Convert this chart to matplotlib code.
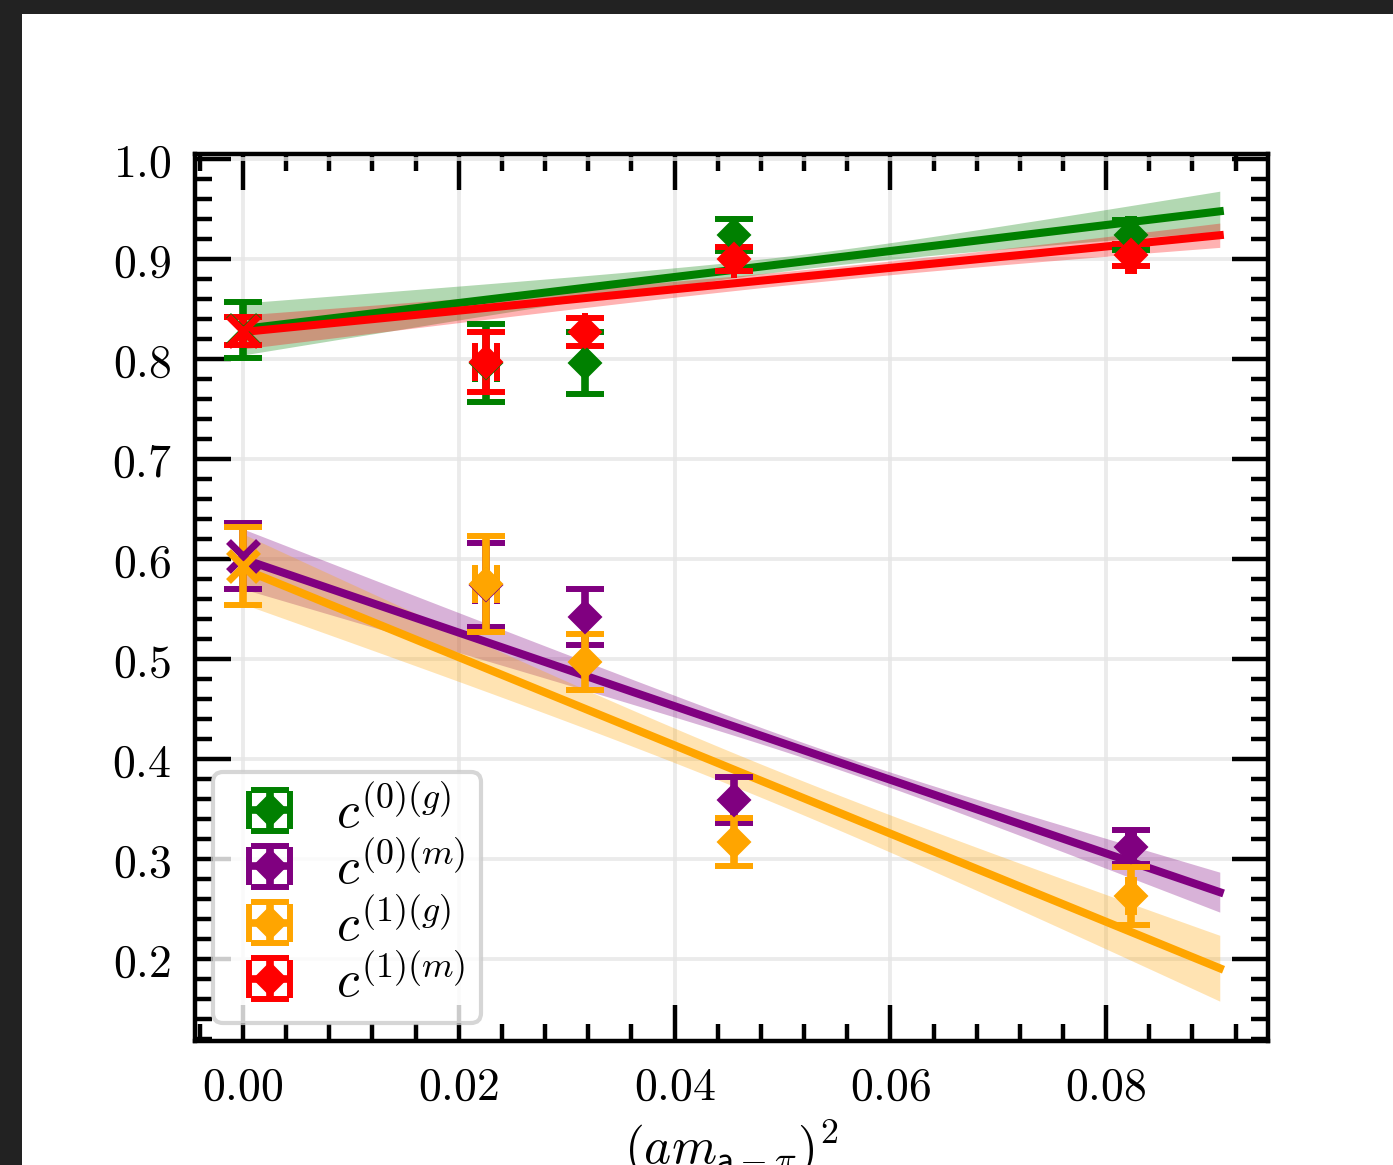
import numpy as np
import matplotlib
matplotlib.use("Agg")
import matplotlib.pyplot as plt
from matplotlib.ticker import MultipleLocator, FuncFormatter
from matplotlib.patches import Rectangle
from matplotlib.container import ErrorbarContainer
from matplotlib.legend_handler import HandlerErrorbar

plt.rcParams['mathtext.fontset'] = 'cm'
plt.rcParams['font.family'] = ['DejaVu Serif']

# ---------------- data ----------------
x_points = [0.0225, 0.0317, 0.0455, 0.0823]
x_err = [0.001, 0.0, 0.0, 0.0003]

labels = [r'$c^{(0)(g)}$', r'$c^{(0)(m)}$', r'$c^{(1)(g)}$', r'$c^{(1)(m)}$']
colors = ['green', 'purple', 'orange', 'red']

c0g = [0.796, 0.796, 0.924, 0.924]
c0g_err = [0.039, 0.031, 0.016, 0.015]
c0m = [0.574, 0.542, 0.359, 0.312]
c0m_err = [0.042, 0.028, 0.023, 0.017]
c1g = [0.575, 0.497, 0.317, 0.263]
c1g_err = [0.048, 0.028, 0.024, 0.029]
c1m = [0.797, 0.827, 0.900, 0.904]
c1m_err = [0.030, 0.014, 0.012, 0.011]

# continuum-extrapolated values at (a m)^2 = 0
extrap = [0.829, 0.603, 0.593, 0.828]
extrap_err = [0.028, 0.033, 0.039, 0.014]

# linear fit parameters: intercept, slope, their errors, correlation
fit_a = [0.830, 0.600, 0.590, 0.827]
fit_b = [1.30, -3.68, -4.41, 1.069]
fit_sa = [0.026, 0.030, 0.035, 0.017]
fit_sb = [0.483, 0.527, 0.654, 0.284]
fit_rho = [-0.96, -0.97, -0.88, -0.918]

series = [c0g, c0m, c1g, c1m]
series_err = [c0g_err, c0m_err, c1g_err, c1m_err]

# ---------------- figure ----------------
W, H, DPI = 1393, 1165, 100
fig = plt.figure(figsize=(W / DPI, H / DPI), dpi=DPI)
fig.patch.set_facecolor('white')
fig.patches.append(Rectangle((0, 0), 22 / W, 1, transform=fig.transFigure,
                             facecolor='#222222', edgecolor='none', zorder=-10))
fig.patches.append(Rectangle((0, 1 - 14 / H), 1, 14 / H, transform=fig.transFigure,
                             facecolor='#222222', edgecolor='none', zorder=-10))

ax = fig.add_axes([195 / W, 1 - 1041 / H, (1268 - 195) / W, (1041 - 154) / H])

xfit = np.linspace(0, 1.1 * max(x_points), 200)
for i in range(4):
    col = colors[i]
    a, b, sa, sb, r = fit_a[i], fit_b[i], fit_sa[i], fit_sb[i], fit_rho[i]
    yfit = a + b * xfit
    sig = np.sqrt(sa**2 + 2 * xfit * r * sa * sb + xfit**2 * sb**2)
    eb = ax.errorbar(x_points, series[i], yerr=series_err[i], xerr=x_err, fmt='D',
                     color=col, ms=16, elinewidth=5.5,
                     capsize=14, capthick=4.3, label=labels[i], zorder=3)
    eb[0].set_markeredgewidth(1.5)
    ex = ax.errorbar([0.0], [extrap[i]], yerr=[extrap_err[i]], fmt='x', color=col,
                     ms=22, elinewidth=5.5, capsize=14, capthick=4.3, zorder=3)
    ex[0].set_markeredgewidth(5)
    ax.plot(xfit, yfit, color=col, lw=5.8, zorder=2)
    ax.fill_between(xfit, yfit - sig, yfit + sig, color=col, alpha=0.3,
                    lw=0, zorder=1)

ax.set_xlim(-0.00445, 0.0950)
ax.set_ylim(0.118, 1.005)

ax.xaxis.set_major_locator(MultipleLocator(0.02))
ax.xaxis.set_minor_locator(MultipleLocator(0.004))
ax.yaxis.set_major_locator(MultipleLocator(0.1))
ax.yaxis.set_minor_locator(MultipleLocator(0.02))
ax.xaxis.set_major_formatter(FuncFormatter(lambda v, p: r'$%.2f$' % v))
ax.yaxis.set_major_formatter(FuncFormatter(lambda v, p: r'$%.1f$' % v))

ax.tick_params(which='both', direction='in', top=True, right=True,
               width=3.2, color='black')
ax.tick_params(which='major', length=26, labelsize=33, pad=17)
ax.tick_params(which='minor', length=12)
for s in ax.spines.values():
    s.set_linewidth(3.2)

ax.grid(True, which='major', color='#e6e6e6', lw=2.8, alpha=0.8, zorder=0)
ax.set_axisbelow(True)

ax.set_xlabel(r'$(am_{\mathsf{a}-\pi})^2$', fontsize=37, labelpad=5)

leg = ax.legend(loc='lower left', fontsize=37, framealpha=0.8, edgecolor='0.8',
                borderaxespad=0.35, handlelength=1.6, handletextpad=0.5,
                labelspacing=0.08, borderpad=0.3,
                handler_map={ErrorbarContainer: HandlerErrorbar(xerr_size=0.4)})
leg.get_frame().set_linewidth(3)

fig.savefig('out.png', dpi=DPI)
